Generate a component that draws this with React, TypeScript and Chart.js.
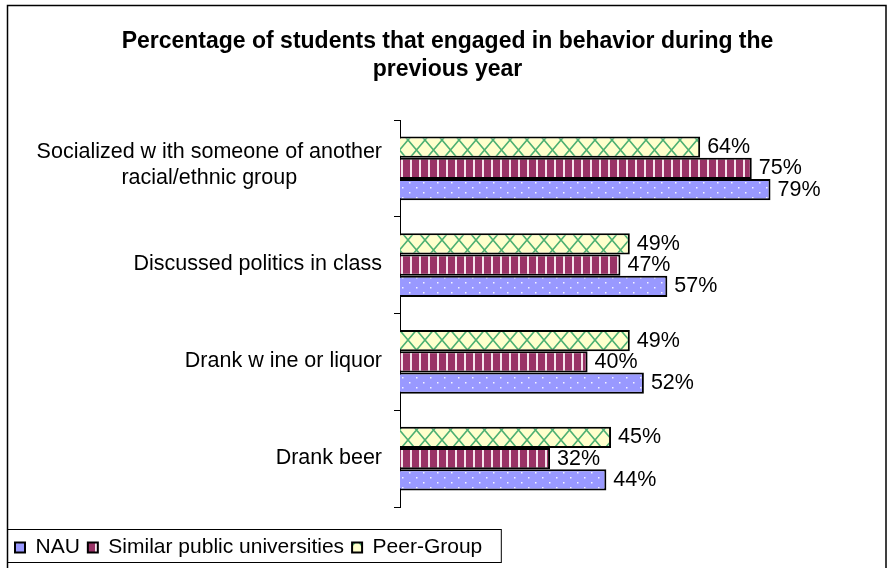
import React, { useEffect, useRef } from "react";
import { Chart, registerables } from "chart.js";

Chart.register(...registerables);

const categories: (string | string[])[] = [
  ["Socialized w ith someone of another", "racial/ethnic group"],
  "Discussed politics in class",
  "Drank w ine or liquor",
  "Drank beer",
];
const seriesNames = ["NAU", "Similar public universities", "Peer-Group"];
const nauValues = [79, 57, 52, 44];
const similarValues = [75, 47, 40, 32];
const peerValues = [64, 49, 49, 45];
const titleLines = [
  "Percentage of students that engaged in behavior during the",
  "previous year",
];
const xMin = 0;
const xMax = 100;

const FONT = "'Liberation Sans', Arial, sans-serif";

export default function App() {
  const ref = useRef<HTMLCanvasElement>(null);

  useEffect(() => {
    const canvas = ref.current!;
    const ctx = canvas.getContext("2d")!;
    const mk = (w: number, h: number, draw: (g: CanvasRenderingContext2D) => void) => {
      const c = document.createElement("canvas");
      c.width = w;
      c.height = h;
      const g = c.getContext("2d")!;
      draw(g);
      return ctx.createPattern(c, "repeat")!;
    };
    const nauFill = mk(14, 10, (g) => {
      g.fillStyle = "#9999FF";
      g.fillRect(0, 0, 14, 10);
      g.fillStyle = "#F4F4FF";
      g.fillRect(3, 2, 1.5, 1.5);
      g.fillRect(10, 7, 1.5, 1.5);
    });
    const simFill = mk(9, 4, (g) => {
      g.fillStyle = "#993366";
      g.fillRect(0, 0, 9, 4);
      g.fillStyle = "#F6E4EC";
      g.fillRect(5, 0, 2, 4);
    });
    const peerFill = mk(17, 20, (g) => {
      g.fillStyle = "#FFFFCC";
      g.fillRect(0, 0, 17, 20);
      g.strokeStyle = "#4DB072";
      g.lineWidth = 1.6;
      for (const dx of [-17, 0, 17]) {
        g.beginPath();
        g.moveTo(dx, 0);
        g.lineTo(dx + 17, 20);
        g.moveTo(dx + 17, 0);
        g.lineTo(dx, 20);
        g.stroke();
      }
    });

    const framePlugin = {
      id: "frame",
      beforeDraw(chart: any) {
        const c = chart.ctx;
        c.save();
        c.fillStyle = "#FFFFFF";
        c.fillRect(0, 0, chart.width, chart.height);
        c.restore();
      },
      afterDraw(chart: any) {
        const c = chart.ctx;
        c.save();
        c.strokeStyle = "#000";
        c.lineWidth = 1.5;
        c.strokeRect(7.5, 5.5, 878.5, 600);
        const lg = chart.legend;
        if (lg && lg.legendHitBoxes && lg.legendHitBoxes.length) {
          const last = lg.legendHitBoxes[lg.legendHitBoxes.length - 1];
          const right = last.left + last.width + 19;
          c.lineWidth = 1;
          c.strokeRect(7.5, lg.top + 0.5, right - 7.5, lg.bottom - 6 - lg.top);
        }
        c.restore();
      },
    };

    const yLabelPlugin = {
      id: "yLabels",
      afterDraw(chart: any) {
        const s = chart.scales.y;
        const c = chart.ctx;
        c.save();
        c.font = `21.5px ${FONT}`;
        c.fillStyle = "#000";
        c.textAlign = "center";
        c.textBaseline = "middle";
        categories.forEach((lab, i) => {
          const lines = Array.isArray(lab) ? lab : [lab];
          const w = Math.max(...lines.map((l) => c.measureText(l).width));
          const cx = s.right - 18 - w / 2;
          const cy = s.getPixelForValue(i) - 1 - (lines.length - 1) * 2.5;
          const lh = 25.5;
          lines.forEach((l, j) => {
            c.fillText(l, cx, cy + (j - (lines.length - 1) / 2) * lh);
          });
        });
        c.restore();
      },
    };

    const valueLabelPlugin = {
      id: "valueLabels",
      afterDatasetsDraw(chart: any) {
        const c = chart.ctx;
        c.save();
        c.font = `21.5px ${FONT}`;
        c.fillStyle = "#000";
        c.textAlign = "left";
        c.textBaseline = "middle";
        chart.data.datasets.forEach((ds: any, di: number) => {
          const meta = chart.getDatasetMeta(di);
          meta.data.forEach((el: any, i: number) => {
            c.fillText(`${ds.data[i]}%`, el.x + 7, el.y);
          });
        });
        c.restore();
      },
    };

    Chart.defaults.font.family = FONT;
    Chart.defaults.color = "#000";

    const chart = new Chart(canvas, {
      type: "bar",
      data: {
        labels: categories,
        datasets: [
          {
            label: seriesNames[2],
            data: peerValues,
            backgroundColor: peerFill,
            borderColor: "#000",
            borderWidth: 2,
            xAxisID: "x",
            yAxisID: "y",
          },
          {
            label: seriesNames[1],
            data: similarValues,
            backgroundColor: simFill,
            borderColor: "#000",
            borderWidth: 2,
            xAxisID: "x",
            yAxisID: "y",
          },
          {
            label: seriesNames[0],
            data: nauValues,
            backgroundColor: nauFill,
            borderColor: "#000",
            borderWidth: 2,
            xAxisID: "x",
            yAxisID: "y",
          },
        ],
      } as any,
      options: {
        indexAxis: "y",
        responsive: false,
        animation: false,
        categoryPercentage: 0.66,
        barPercentage: 1,
        layout: { padding: { left: 7, top: 5, right: 0, bottom: 0 } },
        scales: {
          x: {
            type: "linear",
            min: xMin,
            max: xMax,
            display: true,
            grid: { display: false },
            border: { display: false },
            ticks: { display: false },
            afterFit: (s: any) => {
              s.height = 22;
            },
          },
          y: {
            type: "category",
            position: "left",
            grid: {
              display: true,
              drawOnChartArea: false,
              drawTicks: true,
              tickLength: 6,
              color: "#000",
              lineWidth: 1,
              offset: true,
            },
            border: { display: true, color: "#000", width: 1 },
            ticks: { display: false },
            afterFit: (s: any) => {
              s.width = 393;
            },
          },
          yR: {
            type: "linear",
            position: "right",
            display: true,
            grid: { display: false },
            border: { display: false },
            ticks: { display: false },
            afterFit: (s: any) => {
              s.width = 19;
            },
          },
        },
        plugins: {
          tooltip: { enabled: false },
          title: {
            display: true,
            text: titleLines,
            color: "#000",
            font: { size: 23, weight: "bold", lineHeight: 28 / 23 },
            padding: { top: 23, bottom: 36 },
          },
          legend: {
            display: true,
            position: "bottom",
            align: "start",
            reverse: true,
            labels: {
              boxWidth: 10,
              boxHeight: 10,
              padding: 8,
              color: "#000",
              font: { size: 21 },
            },
          },
        },
      } as any,
      plugins: [framePlugin, yLabelPlugin, valueLabelPlugin],
    });

    return () => chart.destroy();
  }, []);

  return (
    <div style={{ position: "fixed", left: 0, top: 0, width: 888, height: 568, background: "#fff" }}>
      <canvas ref={ref} width={888} height={568} style={{ display: "block" }} />
    </div>
  );
}
